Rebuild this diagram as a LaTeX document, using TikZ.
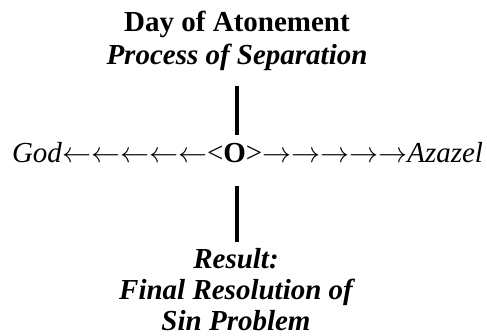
\RequirePackage{fix-cm}
\documentclass[tikz,border=0pt]{standalone}
\usepackage{fontspec}
\setmainfont{Liberation Serif}
\usepackage{tikz}
\usetikzlibrary{positioning, calc}
\tikzset{
  headtext/.style={
    inner sep=0pt, align=center, anchor=base,
    font=\fontsize{29}{33}\selectfont\bfseries
  },
  rowtext/.style={
    inner sep=0pt, anchor=base,
    font=\fontsize{29}{33}\selectfont
  },
  resulttext/.style={
    inner sep=0pt, align=center, anchor=base,
    font=\fontsize{29}{31}\selectfont\bfseries\itshape
  },
  stemline/.style={line width=3.6pt, color=black},
}
\begin{document}
\begin{tikzpicture}[x=1pt,y=1pt]
      \useasboundingbox (0,0) rectangle (487,336);
      \node[headtext](day)at(237,271){Day of Atonement\\\textit{Process of Separation}};
      \node[rowtext](axis)at(247.5,173){\textit{God}\(\leftarrow\leftarrow\leftarrow\leftarrow\leftarrow\)<\textbf{O}>\(\rightarrow\rightarrow\rightarrow\rightarrow\rightarrow\)\textit{Azazel}};
      \node[resulttext](result)at(236,5){Result:\\Final Resolution of\\Sin Problem};
      \draw[stemline,shorten <=15pt,shorten >=8pt](day.south)--(day.south|-axis.north);
      \draw[stemline,shorten <=23pt,shorten >=7pt](day.south|-axis.south)--(day.south|-result.north);
    \end{tikzpicture}
\end{document}
